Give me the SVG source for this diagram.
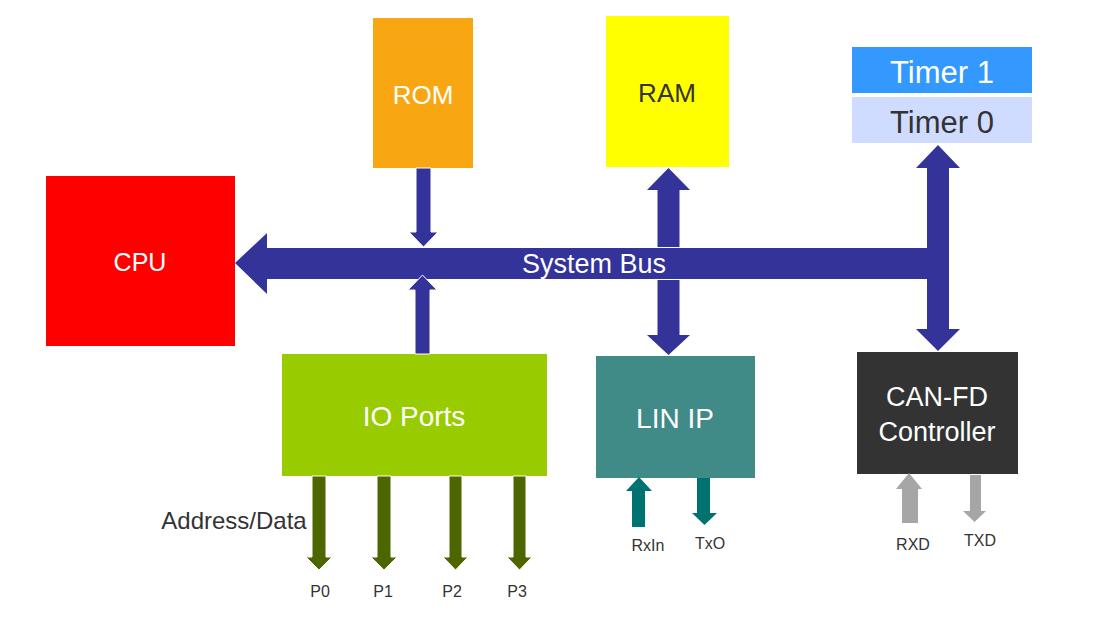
<svg xmlns="http://www.w3.org/2000/svg" width="1120" height="617" viewBox="0 0 1120 617">
<style>
text{font-family:"Liberation Sans",Arial,sans-serif;text-anchor:middle}
.lbl{font-size:27px}
.w{fill:#ffffff}
.d{fill:#333333}
.small{font-size:16px;fill:#333333}
.bus{fill:#333399}
.pa{fill:#4d6600;stroke:#ffffff;stroke-width:1}
.ta{fill:#007370}
.ga{fill:#a6a6a6}
</style>
<rect width="1120" height="617" fill="#ffffff"/>
<g id="cpu"><rect x="46" y="176" width="189" height="170" fill="#ff0000"/><text class="w" font-size="25" x="140" y="271">CPU</text></g>
<g id="rom"><rect x="373" y="18" width="100" height="150" fill="#f8a712"/><text class="w" font-size="26" x="423" y="104">ROM</text></g>
<g id="ram"><rect x="606" y="16" width="123" height="151" fill="#ffff00"/><text class="d" font-size="26" x="667" y="102">RAM</text></g>
<g id="timer1"><rect x="852" y="47" width="180" height="46" fill="#3399ff"/><text class="w" x="942" y="83" font-size="31">Timer 1</text></g>
<g id="timer0"><rect x="852" y="97" width="180" height="46" fill="#cfdcff"/><text class="d" x="942" y="133" font-size="31">Timer 0</text></g>
<g id="io"><rect x="282" y="354" width="265" height="122" fill="#99cc00"/><text class="w" font-size="28" x="414" y="426">IO Ports</text></g>
<g id="lin"><rect x="596" y="356" width="159" height="122" fill="#408a88"/><text class="w" font-size="28" x="675" y="428">LIN IP</text></g>
<g id="can"><rect x="857" y="352" width="161" height="122" fill="#333333"/><text class="lbl w" x="937" y="406" font-size="28">CAN-FD</text><text class="lbl w" x="937" y="441" font-size="28">Controller</text></g>
<g id="connectors">
<path class="bus" d="M235,263 L267,233 L267,248 L927,248 L927,279 L267,279 L267,294 Z"/>
<text class="w" x="594" y="273" font-size="27">System Bus</text>
<path class="bus" stroke="#ffffff" stroke-width="1" d="M416,168 L431,168 L431,232 L438,232 L423.5,247 L409,232 L416,232 Z"/>
<path class="bus" stroke="#ffffff" stroke-width="1" d="M415,354 L430,354 L430,290 L437,290 L422.5,275 L408,290 L415,290 Z"/>
<path class="bus" d="M668.5,168 L690,190 L679.5,190 L679.5,247 L657.5,247 L657.5,190 L647,190 Z"/>
<path class="bus" d="M668.5,355 L690,335 L679.5,335 L679.5,280 L657.5,280 L657.5,335 L647,335 Z"/>
<path class="bus" d="M938,145 L960,168 L949,168 L949,329 L960,329 L938,351 L916,329 L927,329 L927,168 L916,168 Z"/>
<path class="pa" d="M312,476 L326,476 L326,557 L332,557 L319,570 L306,557 L312,557 Z"/>
<path class="pa" d="M377,476 L391,476 L391,557 L397,557 L384,570 L371,557 L377,557 Z"/>
<path class="pa" d="M449,476 L462,476 L462,557 L468,557 L455.5,570 L443,557 L449,557 Z"/>
<path class="pa" d="M513,476 L526,476 L526,557 L532,557 L519.5,570 L507,557 L513,557 Z"/>
<path class="ta" d="M639,477 L652,491 L645,491 L645,527 L632,527 L632,491 L626,491 Z"/>
<path class="ta" d="M697,478 L710,478 L710,513 L717,513 L704.5,525 L692,513 L697,513 Z"/>
<path class="ga" d="M909,473 L922,489 L918,489 L918,523 L902,523 L902,489 L896,489 Z"/>
<path class="ga" d="M970,475 L981,475 L981,511 L986,511 L974.5,522 L963,511 L970,511 Z"/>
</g>
<text x="234" y="529" font-size="24" fill="#333333">Address/Data</text>
<text class="small" x="320" y="597">P0</text>
<text class="small" x="383" y="597">P1</text>
<text class="small" x="452" y="597">P2</text>
<text class="small" x="517" y="597">P3</text>
<text class="small" x="648" y="551">RxIn</text>
<text class="small" x="710" y="549">TxO</text>
<text class="small" x="913" y="550">RXD</text>
<text class="small" x="980" y="546">TXD</text>
</svg>
